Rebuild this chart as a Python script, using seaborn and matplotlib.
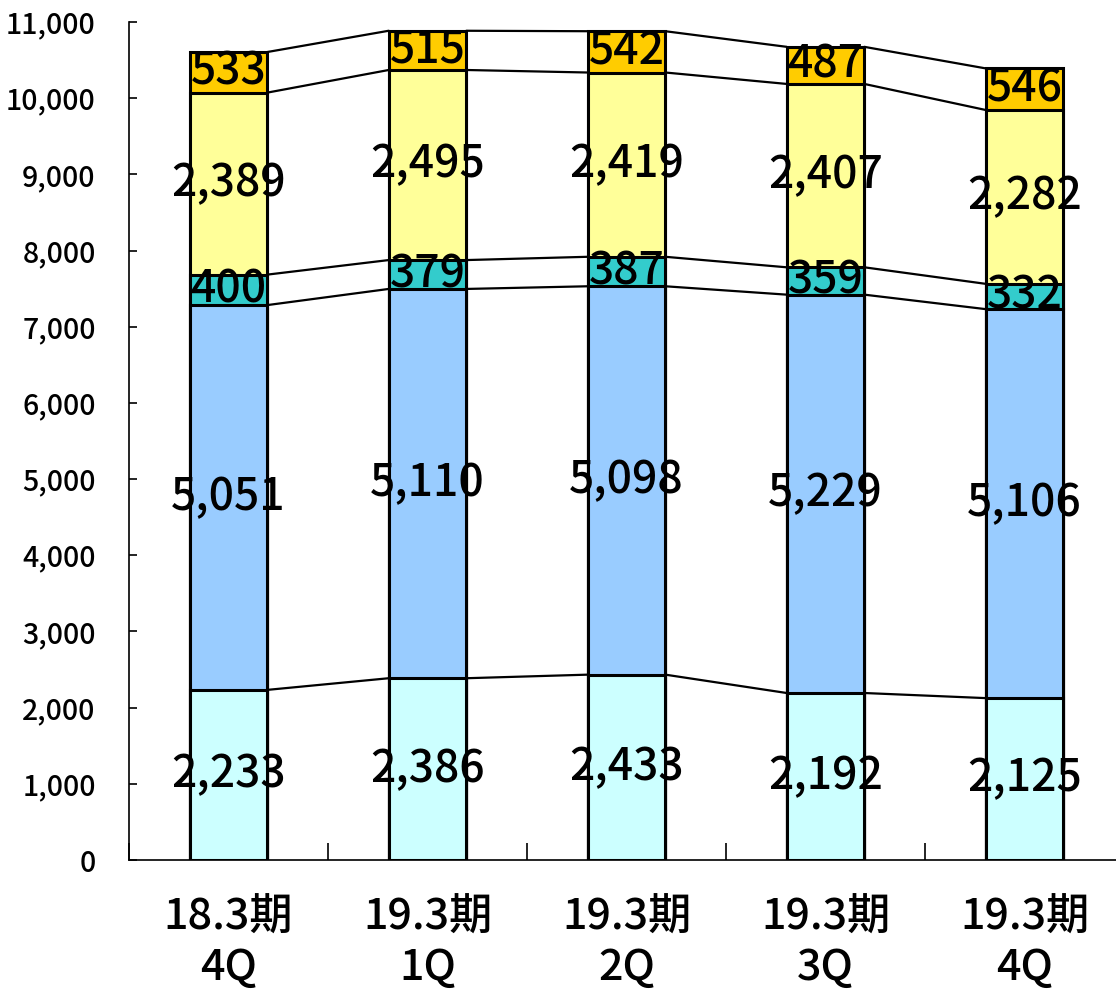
import numpy as np
import matplotlib
matplotlib.use("Agg")
import matplotlib.pyplot as plt
from matplotlib.ticker import FuncFormatter, FixedLocator
import seaborn as sns

# Quarterly breakdown (stacked from bottom to top)
categories = ["18.3期\n4Q", "19.3期\n1Q", "19.3期\n2Q", "19.3期\n3Q", "19.3期\n4Q"]
seg1 = [2233, 2386, 2433, 2192, 2125]
seg2 = [5051, 5110, 5098, 5229, 5106]
seg3 = [400, 379, 387, 359, 332]
seg4 = [2389, 2495, 2419, 2407, 2282]
seg5 = [533, 515, 542, 487, 546]
colors = ["#CCFFFF", "#99CCFF", "#33CCCC", "#FFFF99", "#FFCC00"]
yticks = list(range(0, 11001, 1000))

sns.set_theme(style="white")
plt.rcParams["font.family"] = ["Noto Sans CJK JP", "DejaVu Sans"]
plt.rcParams["text.color"] = "black"
plt.rcParams["xtick.color"] = "black"
plt.rcParams["ytick.color"] = "black"
plt.rcParams["xtick.labelcolor"] = "black"
plt.rcParams["ytick.labelcolor"] = "black"

W, H = 1116, 992
fig = plt.figure(figsize=(W / 100, H / 100), dpi=100)
ax = fig.add_axes([129 / W, (H - 860) / H, (1124 - 129) / W, (860 - 22) / H])

layers = [seg1, seg2, seg3, seg4, seg5]
cum = np.cumsum(np.array(layers), axis=0)
bottoms = np.vstack([np.zeros(len(categories)), cum[:-1]])
bar_w = 0.39

# Draw cumulative totals from the top layer down so each lower layer overlays
for k in range(len(layers) - 1, -1, -1):
    sns.barplot(x=categories, y=cum[k], color=colors[k], saturation=1,
                edgecolor="black", linewidth=2.2, width=bar_w, ax=ax,
                zorder=2)

# Series lines joining segment tops of neighbouring bars
xs = np.arange(len(categories))
for k in range(len(layers)):
    for i in range(len(categories) - 1):
        ax.plot([xs[i] + bar_w / 2, xs[i + 1] - bar_w / 2],
                [cum[k][i], cum[k][i + 1]], color="black", lw=1.6, zorder=1)

# Value labels centred in each segment
for k, vals in enumerate(layers):
    for i, v in enumerate(vals):
        ax.text(xs[i], bottoms[k][i] + v / 2, f"{v:,}", ha="center",
                va="center", fontsize=32, fontweight="medium", color="black",
                zorder=5)

ax.set_xlim(-0.5, len(categories) - 0.5)
ax.set_ylim(0, 11000)
ax.set_yticks(yticks)
ax.yaxis.set_major_formatter(FuncFormatter(lambda v, p: f"{int(v):,}"))
ax.tick_params(axis="y", direction="in", length=6, width=1.2, labelsize=20.5,
               pad=24, left=True, colors="black")
for lab in ax.get_yticklabels():
    lab.set_fontweight("medium")

ax.set_xticks(xs)
ax.set_xticklabels(categories, fontsize=31, linespacing=1.2,
                   fontweight="medium", color="black")
ax.tick_params(axis="x", which="major", length=0, pad=26)
ax.xaxis.set_minor_locator(FixedLocator(np.arange(-0.5, len(categories), 1.0)))
ax.tick_params(axis="x", which="minor", direction="in", length=12, width=1.2,
               bottom=True, colors="black")

ax.set_xlabel("")
ax.set_ylabel("")
for s in ["top", "right"]:
    ax.spines[s].set_visible(False)
for s in ["left", "bottom"]:
    ax.spines[s].set_color("black")
    ax.spines[s].set_linewidth(1.2)
ax.grid(False)

fig.savefig("out.png", dpi=100)
